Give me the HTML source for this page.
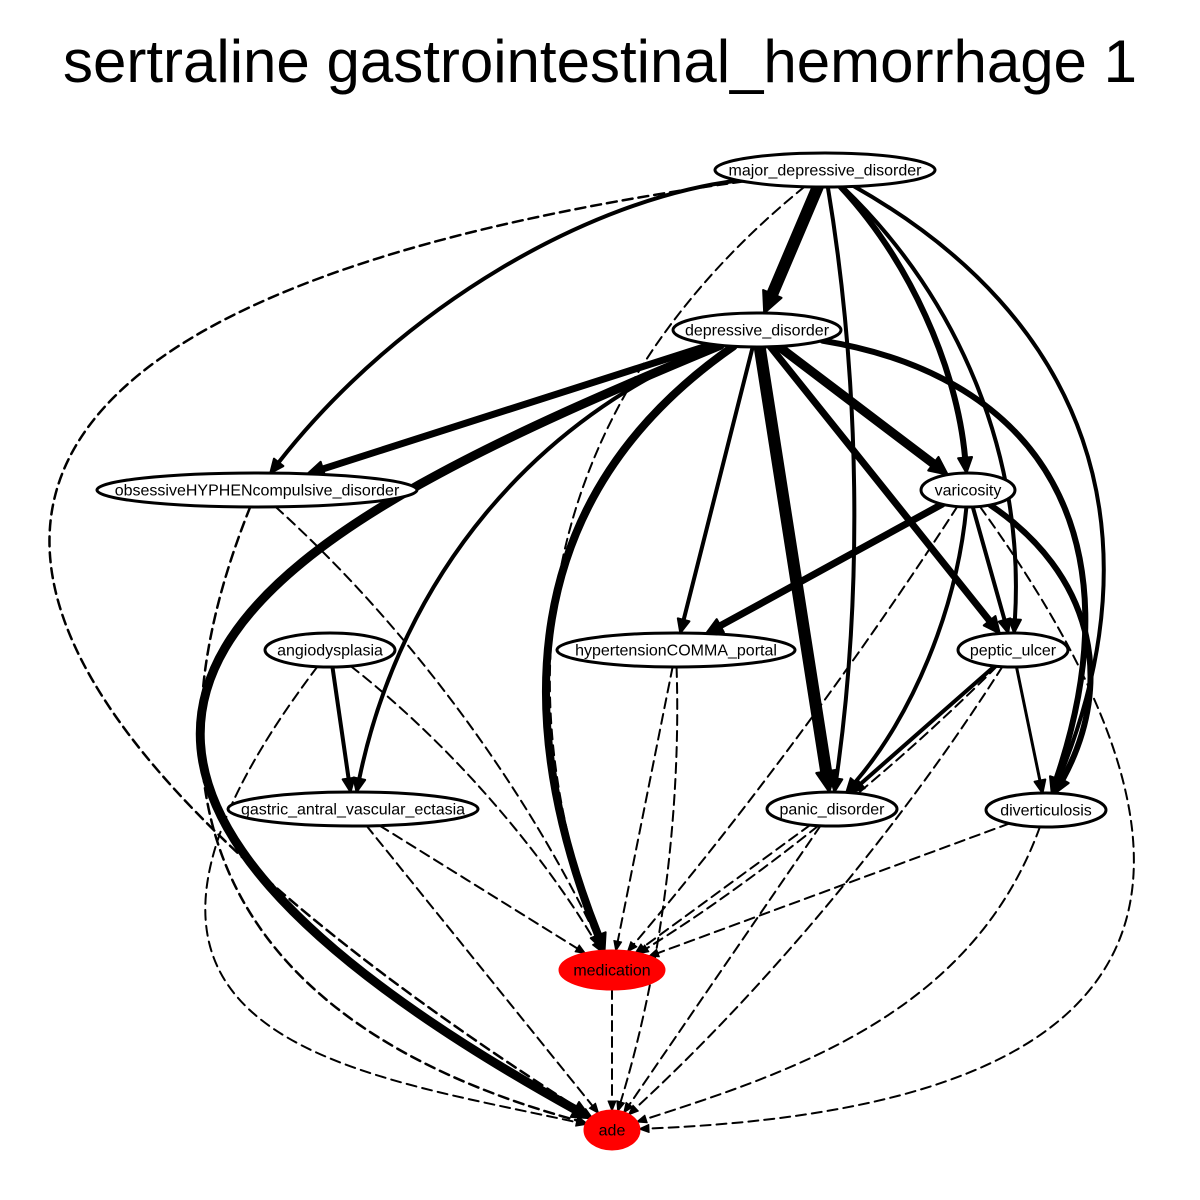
<!DOCTYPE html>
<html><head><meta charset="utf-8">
<style>
html,body{margin:0;padding:0;background:#fff;}
svg{display:block;}
text{font-family:"Liberation Sans",sans-serif;}
</style></head>
<body>
<svg id="g" width="1200" height="1200" viewBox="0 0 1200 1200">
<text x="600" y="82" text-anchor="middle" font-size="60">sertraline gastrointestinal_hemorrhage 1</text>
<g id="edges"></g>
<g id="nodes"></g>
</svg>
<script>
const nodes = [
  {id:"major_depressive_disorder", x:825, y:170, rx:110, ry:17, red:false},
  {id:"depressive_disorder", x:757, y:330, rx:84, ry:17, red:false},
  {id:"obsessiveHYPHENcompulsive_disorder", x:257, y:490, rx:160, ry:17, red:false},
  {id:"varicosity", x:968, y:490, rx:47, ry:17, red:false},
  {id:"angiodysplasia", x:330, y:650, rx:65, ry:17, red:false},
  {id:"hypertensionCOMMA_portal", x:676, y:650, rx:119, ry:17, red:false},
  {id:"peptic_ulcer", x:1013, y:650, rx:55, ry:17, red:false},
  {id:"gastric_antral_vascular_ectasia", x:353, y:809, rx:125, ry:17, red:false},
  {id:"panic_disorder", x:832, y:809, rx:65, ry:17, red:false},
  {id:"diverticulosis", x:1046, y:810, rx:60, ry:17, red:false},
  {id:"medication", x:612, y:970, rx:52, ry:19, red:true},
  {id:"ade", x:612, y:1130, rx:27, ry:19, red:true}
];
// [from, to, width, dashed, bend1, bend2]
const edges = [
  ["major_depressive_disorder","depressive_disorder",12,false,0,0],
  ["major_depressive_disorder","obsessiveHYPHENcompulsive_disorder",4,false,90,90],
  ["major_depressive_disorder","ade",2.5,true,880,900],
  ["major_depressive_disorder","medication",2,true,200,200],
  ["major_depressive_disorder","varicosity",6,false,-40,-40],
  ["major_depressive_disorder","panic_disorder",4,false,-33,-33],
  ["major_depressive_disorder","peptic_ulcer",4,false,-80,-80],
  ["major_depressive_disorder","diverticulosis",4,false,-200,-200],
  ["depressive_disorder","obsessiveHYPHENcompulsive_disorder",7,false,0,0],
  ["depressive_disorder","ade",9,false,420,800],
  ["depressive_disorder","gastric_antral_vascular_ectasia",4,false,113,113],
  ["depressive_disorder","medication",8,false,200,150],
  ["depressive_disorder","hypertensionCOMMA_portal",4,false,0,0],
  ["depressive_disorder","panic_disorder",12,false,0,0],
  ["depressive_disorder","varicosity",9,false,0,0],
  ["depressive_disorder","peptic_ulcer",7,false,0,0],
  ["depressive_disorder","diverticulosis",6,false,-220,-220],
  ["obsessiveHYPHENcompulsive_disorder","medication",2,true,-40,-40],
  ["obsessiveHYPHENcompulsive_disorder","ade",2.5,true,300,250],
  ["varicosity","hypertensionCOMMA_portal",7,false,0,0],
  ["varicosity","panic_disorder",4,false,-37,-37],
  ["varicosity","peptic_ulcer",4,false,0,0],
  ["varicosity","diverticulosis",6,false,-100,-100],
  ["varicosity","medication",2,true,-13,-13],
  ["varicosity","ade",2,true,-520,-400],
  ["angiodysplasia","gastric_antral_vascular_ectasia",4,false,0,0],
  ["angiodysplasia","medication",2,true,-27,-27],
  ["angiodysplasia","ade",2,true,450,200],
  ["hypertensionCOMMA_portal","medication",2,true,0,0],
  ["hypertensionCOMMA_portal","ade",2,true,-27,-27],
  ["peptic_ulcer","panic_disorder",4,false,0,0],
  ["peptic_ulcer","diverticulosis",3,false,0,0],
  ["peptic_ulcer","medication",2,true,-20,-20],
  ["peptic_ulcer","ade",2,true,-27,-27],
  ["gastric_antral_vascular_ectasia","medication",2,true,0,0],
  ["gastric_antral_vascular_ectasia","ade",2,true,0,0],
  ["panic_disorder","medication",2,true,0,0],
  ["panic_disorder","ade",2,true,0,0],
  ["diverticulosis","medication",2,true,0,0],
  ["diverticulosis","ade",2,true,-120,-60],
  ["medication","ade",2,true,0,0]
];

const NS="http://www.w3.org/2000/svg";
const byId={}; nodes.forEach(n=>byId[n.id]=n);
function boundary(n,p){
  const dx=p[0]-n.x, dy=p[1]-n.y;
  const t=1/Math.sqrt((dx/n.rx)**2+(dy/n.ry)**2);
  return [n.x+dx*t, n.y+dy*t];
}
const eg=document.getElementById('edges');
edges.forEach(e=>{
  const a=byId[e[0]], b=byId[e[1]], w=e[2], dashed=e[3], d1=e[4], d2=e[5];
  const dx=b.x-a.x, dy=b.y-a.y, L=Math.hypot(dx,dy);
  const px=-dy/L, py=dx/L;
  const c1=[a.x+dx/3+d1*px, a.y+dy/3+d1*py];
  const c2=[a.x+2*dx/3+d2*px, a.y+2*dy/3+d2*py];
  const s=boundary(a,c1), t=boundary(b,c2);
  const ux=t[0]-c2[0], uy=t[1]-c2[1], ul=Math.hypot(ux,uy);
  const nx=ux/ul, ny=uy/ul;
  const al = dashed ? 10 : 10+w*0.9, aw = dashed ? 4 : 4+w*0.5;
  const te=[t[0]-nx*al, t[1]-ny*al];
  const path=document.createElementNS(NS,'path');
  
  
  path.setAttribute('d',`M${s[0]},${s[1]} C${c1[0]},${c1[1]} ${c2[0]},${c2[1]} ${te[0]},${te[1]}`);
  path.setAttribute('fill','none');
  path.setAttribute('stroke','#000');
  path.setAttribute('stroke-width',w);
  path.setAttribute('stroke-linecap','round');
  if(dashed) path.setAttribute('stroke-dasharray','10,6');
  eg.appendChild(path);
  const ar=document.createElementNS(NS,'polygon');
  
  
  ar.setAttribute('points',`${t[0]},${t[1]} ${te[0]-ny*aw},${te[1]+nx*aw} ${te[0]+ny*aw},${te[1]-nx*aw}`);
  ar.setAttribute('fill','#000');
  ar.setAttribute('stroke','#000');
  ar.setAttribute('stroke-width',dashed?1:2);
  ar.setAttribute('stroke-linejoin','round');
  eg.appendChild(ar);
});
const ng=document.getElementById('nodes');
nodes.forEach(n=>{
  const g=document.createElementNS(NS,'g');
  
  
  const el=document.createElementNS(NS,'ellipse');
  
  
  el.setAttribute('cx',n.x); el.setAttribute('cy',n.y);
  el.setAttribute('rx',n.rx); el.setAttribute('ry',n.ry);
  el.setAttribute('fill',n.red?'#ff0000':'#fff');
  el.setAttribute('stroke',n.red?'#ff0000':'#000');
  el.setAttribute('stroke-width',3);
  g.appendChild(el);
  const tx=document.createElementNS(NS,'text');
  
  
  tx.setAttribute('x',n.x); tx.setAttribute('y',n.y+5.5);
  tx.setAttribute('text-anchor','middle');
  tx.setAttribute('font-size','16');
  tx.textContent=n.id;
  g.appendChild(tx);
  ng.appendChild(g);
});
</script>
</body></html>
